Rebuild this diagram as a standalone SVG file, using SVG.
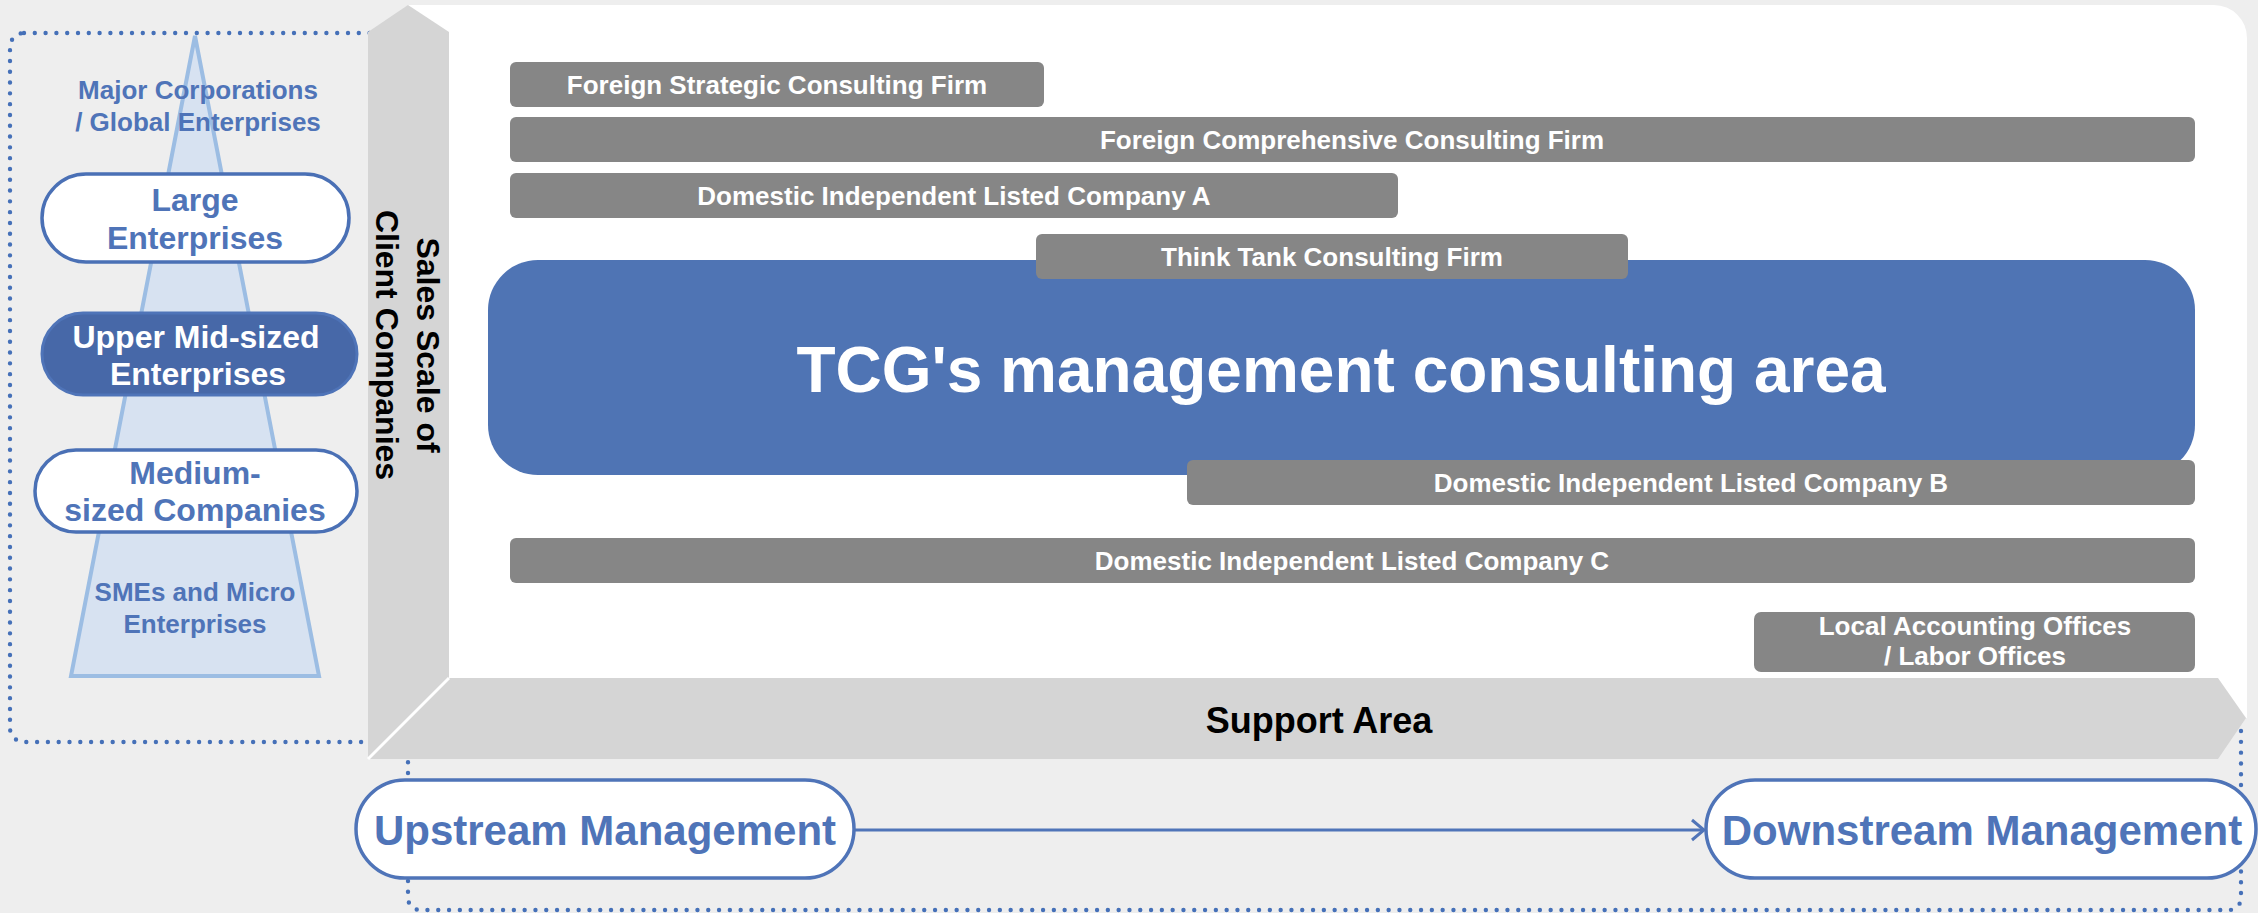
<svg xmlns="http://www.w3.org/2000/svg" width="2258" height="913" viewBox="0 0 2258 913">
  <defs>
    <style>
      text { font-family: "Liberation Sans", Arial, sans-serif; font-weight: bold; }
      .dots { fill: none; stroke: #4570b8; stroke-width: 4.4; stroke-linecap: round; stroke-dasharray: 0 10.8; }
      .bar { fill: #868686; }
      .bar-label { fill: #ffffff; font-size: 26px; text-anchor: middle; }
      .tier { fill: #ffffff; stroke: #4a70b5; stroke-width: 3.5; }
      .tier-label { fill: #4f74b8; font-size: 32px; text-anchor: middle; }
      .tier-note { fill: #4f74b8; font-size: 26px; text-anchor: middle; }
      .band { fill: #d5d5d5; }
      .axis-label { fill: #000000; font-size: 32px; text-anchor: middle; }
      .phase { fill: #ffffff; stroke: #4f74b8; stroke-width: 3.5; }
      .phase-label { fill: #4f74b8; font-size: 42px; text-anchor: middle; }
      .flow { fill: none; stroke: #4f74b8; stroke-width: 3; }
    </style>
    <marker id="chevron" markerUnits="userSpaceOnUse" viewBox="0 0 16 24" refX="14" refY="12" markerWidth="16" markerHeight="24" orient="auto">
      <path d="M2,2 L14,12 L2,22" fill="none" stroke="#4f74b8" stroke-width="3"/>
    </marker>
  </defs>

  <!-- background -->
  <rect x="0" y="0" width="2258" height="913" fill="#eeeeee"/>

  <!-- dotted frames around the client tiers and the management axis -->
  <rect class="dots" x="10" y="33" width="385" height="709" rx="14"/>
  <rect class="dots" x="408" y="700" width="1833" height="210" rx="12"/>

  <!-- white plotting panel -->
  <path d="M408,5 H2214 A33,33 0 0 1 2247,38 V718 H408 Z" fill="#ffffff"/>

  <!-- axis bands -->
  <g id="axis-vertical">
    <polygon class="band" points="368,32 408,5 449,32 449,678 368,759"/>
    <text class="axis-label" transform="translate(417,345) rotate(90)">Sales Scale of</text>
    <text class="axis-label" transform="translate(376,345) rotate(90)">Client Companies</text>
  </g>
  <g id="axis-horizontal">
    <polygon class="band" points="449,678 2218,678 2246,718 2218,759 368,759"/>
    <line x1="449" y1="678" x2="368" y2="759" stroke="#ffffff" stroke-width="3"/>
    <text x="1319" y="733" fill="#000000" font-size="36" text-anchor="middle">Support Area</text>
  </g>

  <!-- client size pyramid -->
  <g id="pyramid">
    <polygon points="195,36 319,676 71,676" fill="#d7e2f1" stroke="#9cbde3" stroke-width="4"/>
    <text class="tier-note" x="198" y="99">Major Corporations</text>
    <text class="tier-note" x="198" y="131">/ Global Enterprises</text>
    <text class="tier-note" x="195" y="601">SMEs and Micro</text>
    <text class="tier-note" x="195" y="633">Enterprises</text>
  </g>
  <g id="tier-large">
    <rect class="tier" x="42" y="174" width="307" height="88" rx="44"/>
    <text class="tier-label" x="195" y="211">Large</text>
    <text class="tier-label" x="195" y="249">Enterprises</text>
  </g>
  <g id="tier-upper-mid">
    <rect x="42" y="313" width="315" height="82" rx="41" fill="#4768a8" stroke="#4f74b8" stroke-width="3"/>
    <text class="tier-label" x="196" y="348" style="fill:#ffffff">Upper Mid-sized</text>
    <text class="tier-label" x="198" y="385" style="fill:#ffffff">Enterprises</text>
  </g>
  <g id="tier-medium">
    <rect class="tier" x="35" y="450" width="322" height="82" rx="41"/>
    <text class="tier-label" x="195" y="484">Medium-</text>
    <text class="tier-label" x="195" y="521">sized Companies</text>
  </g>

  <!-- consulting firm coverage bars -->
  <g id="bar-foreign-strategic">
    <rect class="bar" x="510" y="62" width="534" height="45" rx="6"/>
    <text class="bar-label" x="777" y="94">Foreign Strategic Consulting Firm</text>
  </g>
  <g id="bar-foreign-comprehensive">
    <rect class="bar" x="510" y="117" width="1685" height="45" rx="6"/>
    <text class="bar-label" x="1352" y="149">Foreign Comprehensive Consulting Firm</text>
  </g>
  <g id="bar-domestic-a">
    <rect class="bar" x="510" y="173" width="888" height="45" rx="6"/>
    <text class="bar-label" x="954" y="205">Domestic Independent Listed Company A</text>
  </g>

  <g id="tcg-area">
    <rect x="488" y="260" width="1707" height="215" rx="50" fill="#4f74b4"/>
    <text x="1341" y="392" fill="#ffffff" font-size="64" text-anchor="middle">TCG's management consulting area</text>
  </g>

  <g id="bar-think-tank">
    <rect class="bar" x="1036" y="234" width="592" height="45" rx="6"/>
    <text class="bar-label" x="1332" y="266">Think Tank Consulting Firm</text>
  </g>
  <g id="bar-domestic-b">
    <rect class="bar" x="1187" y="460" width="1008" height="45" rx="6"/>
    <text class="bar-label" x="1691" y="492">Domestic Independent Listed Company B</text>
  </g>
  <g id="bar-domestic-c">
    <rect class="bar" x="510" y="538" width="1685" height="45" rx="6"/>
    <text class="bar-label" x="1352" y="570">Domestic Independent Listed Company C</text>
  </g>
  <g id="bar-local-offices">
    <rect class="bar" x="1754" y="612" width="441" height="60" rx="7"/>
    <text class="bar-label" x="1975" y="635">Local Accounting Offices</text>
    <text class="bar-label" x="1975" y="665">/ Labor Offices</text>
  </g>

  <!-- management flow -->
  <g id="connectors">
    <line class="flow" x1="854" y1="830" x2="1704" y2="830" marker-end="url(#chevron)"/>
  </g>
  <g id="phase-upstream">
    <rect class="phase" x="356" y="780" width="498" height="98" rx="49"/>
    <text class="phase-label" x="605" y="845">Upstream Management</text>
  </g>
  <g id="phase-downstream">
    <rect class="phase" x="1706" y="780" width="550" height="98" rx="49"/>
    <text class="phase-label" x="1982" y="845">Downstream Management</text>
  </g>
</svg>
